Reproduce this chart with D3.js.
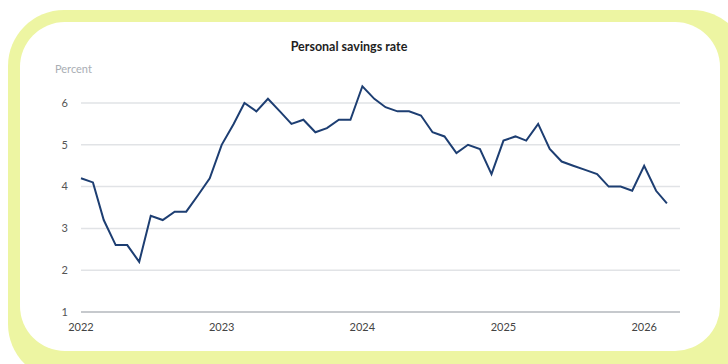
<!DOCTYPE html>
<html>
<head>
<meta charset="utf-8">
<script src="https://cdn.jsdelivr.net/npm/d3@7"></script>
<style>
  html, body { margin: 0; padding: 0; background: #fff; }
  #chart { width: 728px; height: 364px; }
</style>
</head>
<body>
<div id="chart"></div>
<script>
// Monthly personal savings rate, Jan 2022 - Mar 2026
const startMonth = "2022-01";
const savingsRate = [
    4.2, 4.1, 3.2, 2.6, 2.6, 2.2, 3.3, 3.2, 3.4, 3.4, 3.8, 4.2,   // 2022
    5.0, 5.5, 6.0, 5.8, 6.1, 5.8, 5.5, 5.6, 5.3, 5.4, 5.6, 5.6,   // 2023
    6.4, 6.1, 5.9, 5.8, 5.8, 5.7, 5.3, 5.2, 4.8, 5.0, 4.9, 4.3,   // 2024
    5.1, 5.2, 5.1, 5.5, 4.9, 4.6, 4.5, 4.4, 4.3, 4.0, 4.0, 3.9,   // 2025
    4.5, 3.9, 3.6                                                 // 2026
];
const yTicks = [1, 2, 3, 4, 5, 6];
const xTickYears = [2022, 2023, 2024, 2025, 2026];

const W = 728, H = 364;
const margin = { top: 103, right: 48, bottom: 53, left: 81 },
    width = W - margin.left - margin.right,
    height = H - margin.top - margin.bottom;

const parseMonth = d3.timeParse("%Y-%m");
const t0 = parseMonth(startMonth);
const data = savingsRate.map((v, i) => ({ date: d3.timeMonth.offset(t0, i), value: v }));

const root = d3.select("#chart")
    .append("svg")
    .attr("width", W)
    .attr("height", H);

// yellow frame, runs off the right and bottom edges
root.append("rect")
    .attr("x", 8).attr("y", 10)
    .attr("width", 740).attr("height", 370)
    .attr("rx", 56).attr("ry", 56)
    .attr("fill", "#edf5a2");

// white card
root.append("rect")
    .attr("x", 20).attr("y", 22)
    .attr("width", 700).attr("height", 329)
    .attr("rx", 45).attr("ry", 45)
    .attr("fill", "#fff");

// title
root.append("text")
    .attr("x", 349)
    .attr("y", 51)
    .attr("text-anchor", "middle")
    .style("font-family", "Lato, 'Open Sans', sans-serif")
    .style("font-size", "12.5px")
    .style("font-weight", "bold")
    .style("fill", "#1e1e1e")
    .text("Personal savings rate");

// y unit label
root.append("text")
    .attr("x", 55)
    .attr("y", 73)
    .style("font-family", "Lato, 'Open Sans', sans-serif")
    .style("font-size", "11px")
    .style("fill", "#a9aeb4")
    .text("Percent");

const svg = root.append("g")
    .attr("transform", "translate(" + margin.left + "," + margin.top + ")");

// scales
var x = d3.scaleTime()
    .domain([t0, d3.timeDay.offset(parseMonth("2026-04"), 3)])
    .range([0, width]);

var y = d3.scaleLinear()
    .domain([1, 6])
    .range([height + 1, 0]);

// grid lines + y labels
svg.append("g")
    .selectAll("line")
    .data(yTicks)
    .enter()
    .append("line")
    .attr("x1", 0)
    .attr("x2", width)
    .attr("y1", d => y(d))
    .attr("y2", d => y(d))
    .attr("stroke", d => d === 1 ? "#b3b7bc" : "#e1e3e6")
    .attr("stroke-width", 1.5);

svg.append("g")
    .selectAll("text")
    .data(yTicks)
    .enter()
    .append("text")
    .attr("x", -13)
    .attr("y", d => y(d))
    .attr("dy", "0.35em")
    .attr("text-anchor", "end")
    .style("font-family", "Lato, 'Open Sans', sans-serif")
    .style("font-size", "11px")
    .style("fill", "#555")
    .text(d => d);

// x labels
svg.append("g")
    .selectAll("text")
    .data(xTickYears)
    .enter()
    .append("text")
    .attr("x", d => x(new Date(d, 0, 1)))
    .attr("y", height + 20)
    .attr("text-anchor", "middle")
    .style("font-family", "Lato, 'Open Sans', sans-serif")
    .style("font-size", "11px")
    .style("fill", "#444")
    .text(d => d);

// the line
var line = d3.line()
    .x(d => x(d.date))
    .y(d => y(d.value));

svg.append("path")
    .datum(data)
    .attr("fill", "none")
    .attr("stroke", "#1d3e72")
    .attr("stroke-width", 2)
    .attr("stroke-linejoin", "miter")
    .attr("d", line);
</script>
</body>
</html>
